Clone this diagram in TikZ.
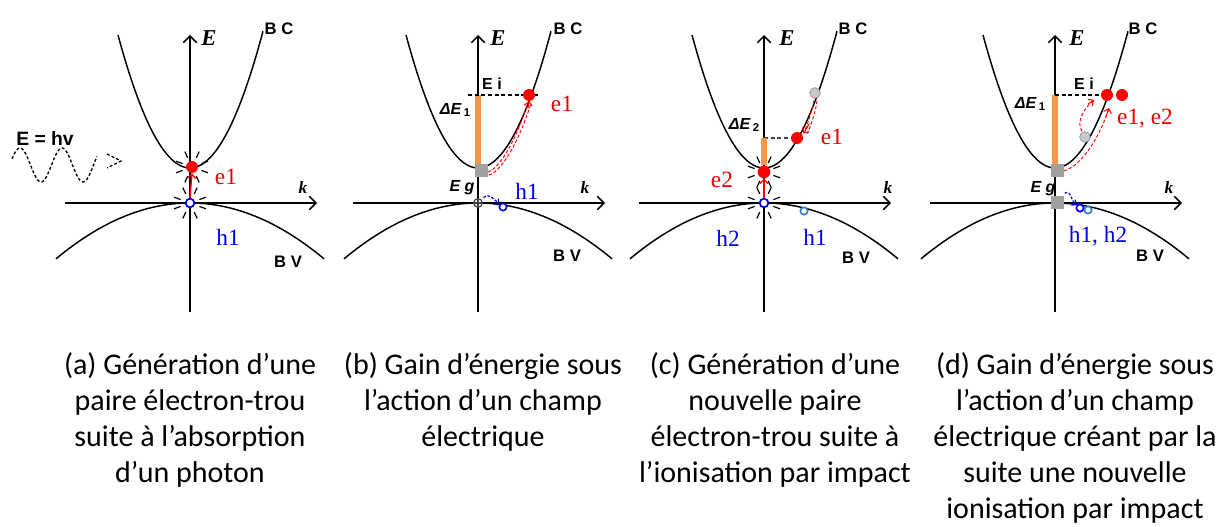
\documentclass[tikz,border=0pt]{standalone}
\usepackage{fontspec}
\setmainfont{Liberation Serif}
\newfontfamily\capfont{Carlito}
\newfontfamily\lsans{Liberation Sans}
\usetikzlibrary{arrows.meta}
\definecolor{orng}{RGB}{247,150,70}
\definecolor{gsq}{RGB}{160,160,160}
\definecolor{eRed}{RGB}{235,0,0}
\definecolor{hBlue}{RGB}{0,0,235}
\definecolor{lBlue}{RGB}{40,125,205}
\definecolor{lgray}{RGB}{200,200,200}
\tikzset{
 axis/.style={line width=1.1pt,-{Straight Barb[length=5pt,width=10pt,line width=1.1pt]}},
 band/.style={line width=1.1pt},
 bl/.style={font=\lsans\bfseries\fontsize{12.5}{14}\selectfont, inner sep=0},
 sl/.style={font=\lsans\bfseries\fontsize{12}{14}\selectfont, inner sep=0},
 al/.style={font=\bfseries\itshape\fontsize{17}{19}\selectfont, inner sep=0},
 kl/.style={font=\bfseries\itshape\fontsize{13}{15}\selectfont, inner sep=0},
 el/.style={font=\fontsize{17.5}{19}\selectfont, text=eRed, inner sep=0},
 hl/.style={font=\fontsize{17.5}{19}\selectfont, text=hBlue, inner sep=0},
 edot/.style={circle, fill=red, inner sep=0, minimum size=9pt},
 gdot/.style={circle, fill=lgray, draw=gray, line width=0.4pt, inner sep=0, minimum size=8pt},
 hcirc/.style={circle, draw=hBlue, line width=1.3pt, fill=white, inner sep=0, minimum size=6.5pt},
 lcirc/.style={circle, draw=lBlue, line width=1.2pt, fill=white, inner sep=0, minimum size=5.5pt},
 gsquare/.style={rectangle, fill=gsq, inner sep=0, minimum size=9.75pt},
 orangebar/.style={orng, line width=5.2pt},
 rarrow/.style={red, line width=1pt, -{Straight Barb[length=3pt,width=6pt,line width=1pt]}},
 rdash/.style={red, line width=0.7pt, dash pattern=on 2.5pt off 1.5pt},
 rtip/.style={red, line width=0.8pt, -{Straight Barb[length=3pt,width=6pt,line width=0.8pt]}},
 bdash/.style={hBlue, line width=0.9pt, dash pattern=on 2pt off 1.2pt, -{Straight Barb[length=2.5pt,width=5pt,line width=0.9pt]}},
 hdash/.style={line width=0.8pt, dash pattern=on 3pt off 2pt},
 wave/.style={line width=1pt, dash pattern=on 2.2pt off 1.6pt},
 spark/.style={line width=0.9pt},
 captext/.style={font=\capfont\fontsize{22.5}{27}\selectfont, inner sep=0, anchor=base},
}
\newcommand{\drawbands}{%
  \draw[axis] (0,312) -- (0,35);
  \draw[axis] (-125,203) -- (127,203);
  \draw[band] plot[domain=-72:73,samples=61,smooth] (\x,{168-2.566*(\x/10)*(\x/10)});
  \draw[band] plot[domain=-134:134,samples=61,smooth] (\x,{203+0.311*(\x/10)*(\x/10)});
}
\newcommand{\burst}[1]{%
  \foreach \a in {20,65,115,160,200,245,295,340}{%
    \draw[spark] ([shift={(\a:10)}]#1.center) -- ([shift={(\a:17)}]#1.center);}%
}
\newcommand{\dE}[1]{{\itshape ΔE}\,\raisebox{-1pt}{\fontsize{8.5}{9}\selectfont #1}}
\begin{document}
\begin{tikzpicture}[x=0.75pt,y=-0.75pt]
\useasboundingbox (0,0) rectangle (1229,527);
\fill[white] (0,0) rectangle (1229,527);

% ---------- photon ----------
\node[font=\lsans\bfseries\fontsize{14.5}{16}\selectfont, inner sep=0] (ph) at (45,138) {E = hv};
\draw[wave] plot[domain=12:97,samples=90,smooth] (\x,{165-17*sin(8.571*(\x-12)+21.4)});
\coordinate (ph-tip) at (121,161);
\draw[wave] (107,154) -- (ph-tip) -- (107,168);

% ---------- panel (a) ----------
\begin{scope}[shift={(190,0)}]
\drawbands
\node[al] (a-E) at (19,38) {E};
\node[kl] (a-k) at (113,187) {k};
\node[bl] (a-BC) at (89,29) {B C};
\node[bl] (a-BV) at (98,262) {B V};
\node[edot] (a-e1) at (2,167) {};
\node[hcirc] (a-h1) at (0,203) {};
\burst{a-e1}
\burst{a-h1}
\draw[rarrow] (a-h1.north) -- (a-e1.south);
\node[el] (a-e1l) at (36,177) {e1};
\node[hl] (a-h1l) at (38,237) {h1};
\end{scope}

% ---------- panel (b) ----------
\begin{scope}[shift={(478,0)}]
\drawbands
\node[al] (b-E) at (20,38) {E};
\node[kl] (b-k) at (107,187) {k};
\node[bl] (b-BC) at (90,29) {B C};
\node[bl] (b-BV) at (89,256) {B V};
\coordinate (b-top) at (0,95);
\node[gsquare] (b-sq) at (3,171) {};
\draw[orangebar] (b-top) -- (b-sq.north -| b-top);
\coordinate (b-dl) at (-10,95);
\coordinate (b-dr) at (60,95);
\draw[hdash] (b-dl) -- (b-dr);
\node[edot] (b-e1) at (51,95) {};
\draw[rdash] ([shift={(0,1)}]b-sq.east) .. controls +(14,-4) and +(-9,30) .. ([shift={(-1,7)}]b-e1.center);
\draw[rdash] ([shift={(1,4)}]b-sq.east) .. controls +(15,-4) and +(-9,30) .. ([shift={(2,8)}]b-e1.center);
\draw[rtip] ([shift={(-1,13)}]b-e1.center) -- ([shift={(0,6)}]b-e1.center);
\node[sl] (b-Ei) at (14,84) {E i};
\node[sl] (b-dE) at (-23,110) {\dE{1}};
\node[el] (b-e1l) at (84,104) {e1};
\node[sl] (b-Eg) at (-16,188) {\itshape E g};
\node[circle, draw=darkgray, line width=0.9pt, inner sep=0, minimum size=6.5pt, fill=white] (b-o) at (0,203) {};
\draw[darkgray, line width=0.8pt] (b-o.north) -- (b-o.south) (b-o.west) -- (b-o.east);
\node[lcirc, draw=hBlue] (b-h1) at (25,207) {};
\draw[bdash] ([shift={(2,-2)}]b-o.north east) .. controls +(6,-5) and +(-6,-4) .. (b-h1.north west);
\node[hl] (b-h1l) at (49,191) {h1};
\end{scope}

% ---------- panel (c) ----------
\begin{scope}[shift={(764,0)}]
\drawbands
\node[al] (c-E) at (23,38) {E};
\node[kl] (c-k) at (124,187) {k};
\node[bl] (c-BC) at (89,29) {B C};
\node[bl] (c-BV) at (92,258) {B V};
\node[gdot] (c-g) at (51,93) {};
\node[edot] (c-e1) at (33,138) {};
\coordinate (c-top) at (0,138);
\draw[hdash, darkgray] (c-top) -- (c-e1.west);
\node[edot, minimum size=9.5pt] (c-e2) at (0,172) {};
\draw[orangebar] (c-top) -- (c-e2.north);
\node[hcirc] (c-h2) at (0,203) {};
\node[lcirc] (c-h1) at (40,211) {};
\burst{c-e2}
\burst{c-h2}
\draw[rarrow] (c-h2.north) -- (c-e2.south);
\draw[rdash] ([shift={(-1,2)}]c-g.south) .. controls +(-2,10) and +(4,-10) .. ([shift={(3,-2)}]c-e1.north east);
\draw[rdash] ([shift={(2,2)}]c-g.south) .. controls +(-1,10) and +(4,-10) .. ([shift={(6,0)}]c-e1.north east);
\draw[rtip] ([shift={(8,-10)}]c-e1.north east) -- ([shift={(2,0)}]c-e1.north east);
\node[el] (c-e1l) at (68,137) {e1};
\node[el] (c-e2l) at (-42,180) {e2};
\node[sl] (c-dE) at (-20,125) {\dE{2}};
\node[hl] (c-h2l) at (-36,238) {h2};
\node[hl] (c-h1l) at (51,237) {h1};
\end{scope}

% ---------- panel (d) ----------
\begin{scope}[shift={(1055,0)}]
\drawbands
\node[al] (d-E) at (22,38) {E};
\node[kl] (d-k) at (114,187) {k};
\node[bl] (d-BC) at (88,29) {B C};
\node[bl] (d-BV) at (95,256) {B V};
\coordinate (d-top) at (0,95);
\node[gsquare] (d-sq1) at (2,171) {};
\node[gsquare] (d-sq2) at (2,203) {};
\draw[orangebar] (d-top) -- (d-sq1.north -| d-top);
\coordinate (d-dr) at (45,95);
\draw[hdash] (d-top) -- (d-dr);
\node[edot] (d-e1) at (52,95) {};
\node[edot] (d-e2) at (67,95) {};
\node[gdot] (d-g) at (30,137) {};
\draw[rdash] (d-sq1.east) .. controls +(20,-6) and +(-8,25) .. ([shift={(2,13)}]d-e1.center);
\draw[rdash] ([shift={(-3,0)}]d-g.north) .. controls +(-7,-10) and +(-8,6) .. ([shift={(-13,5)}]d-e1.center);
\draw[rtip] ([shift={(-1,22)}]d-e1.center) -- ([shift={(2,13)}]d-e1.center);
\draw[rtip] ([shift={(-19,9)}]d-e1.center) -- ([shift={(-13,5)}]d-e1.center);
\node[sl] (d-Ei) at (29,84) {E i};
\node[sl] (d-dE) at (-25,104) {\dE{1}};
\node[el] (d-el) at (90,119) {e1, e2};
\node[sl] (d-Eg) at (-12,189) {\itshape E g};
\node[hcirc, minimum size=5.5pt] (d-h1) at (25,208) {};
\node[lcirc] (d-h2) at (33,210) {};
\draw[bdash] ([shift={(1,-3)}]d-sq2.north east) .. controls +(6,-4) and +(-6,-4) .. (d-h1.north west);
\node[hl] (d-hl) at (43,236) {h1, h2};
\end{scope}

% ---------- captions ----------
\node[captext] (capa) at (190,375) {\begin{tabular}[t]{@{}c@{}}(a) Génération d’une\\ paire électron-trou\\ suite à l’absorption\\ d’un photon\end{tabular}};
\node[captext] (capb) at (483,375) {\begin{tabular}[t]{@{}c@{}}(b) Gain d’énergie sous\\ l’action d’un champ\\ électrique\end{tabular}};
\node[captext] (capc) at (775,375) {\begin{tabular}[t]{@{}c@{}}(c) Génération d’une\\ nouvelle paire\\ électron-trou suite à\\ l’ionisation par impact\end{tabular}};
\node[captext] (capd) at (1075,375) {\begin{tabular}[t]{@{}c@{}}(d) Gain d’énergie sous\\ l’action d’un champ\\ électrique créant par la\\ suite une nouvelle\\ ionisation par impact\end{tabular}};
\end{tikzpicture}
\end{document}
